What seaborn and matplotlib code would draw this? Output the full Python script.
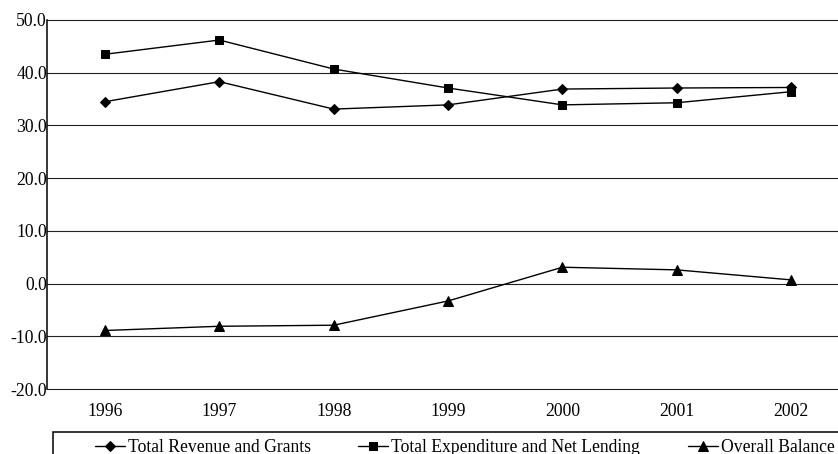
import matplotlib
matplotlib.use("Agg")
import matplotlib.pyplot as plt
import matplotlib.patches as mpatches
import seaborn as sns
import pandas as pd

years = ["1996", "1997", "1998", "1999", "2000", "2001", "2002"]
revenue = [34.5, 38.3, 33.1, 33.9, 36.9, 37.1, 37.2]
expenditure = [43.5, 46.2, 40.7, 37.1, 33.9, 34.3, 36.4]
balance = [-8.9, -8.1, -7.9, -3.3, 3.1, 2.6, 0.7]
series_names = ["Total Revenue and Grants", "Total Expenditure and Net Lending", "Overall Balance"]
y_ticks = [-20, -10, 0, 10, 20, 30, 40, 50]

sns.set_theme(style="white")
plt.rcParams['font.family'] = ['Liberation Serif', 'DejaVu Serif']

W, H = 838, 454
fig = plt.figure(figsize=(W / 100, H / 100), dpi=100)
ax = fig.add_axes([47 / W, 1 - 389 / H, 1 - 47 / W, (389 - 20) / H])

df = pd.DataFrame({"year": years * 3,
                   "value": revenue + expenditure + balance,
                   "series": [series_names[0]] * 7 + [series_names[1]] * 7 + [series_names[2]] * 7})
df["x"] = list(range(7)) * 3

markers = {series_names[0]: "D", series_names[1]: "s", series_names[2]: "^"}
msizes = {series_names[0]: 5.0, series_names[1]: 6.0, series_names[2]: 6.5}
for name in series_names:
    sub = df[df["series"] == name]
    sns.lineplot(data=sub, x="x", y="value", ax=ax, color="black", linewidth=1.0,
                 marker=markers[name], markersize=msizes[name], markeredgecolor="black",
                 markerfacecolor="black", label=name, legend=False)

ax.set_xlim(-0.507, 6.41)
ax.set_ylim(-20, 50)
ax.set_xticks(range(7))
ax.set_xticklabels(years)
ax.set_yticks(y_ticks)
ax.set_yticklabels([f"{v:.1f}" for v in y_ticks])
ax.set_xlabel("")
ax.set_ylabel("")
ax.yaxis.grid(True, color="#202020", linewidth=0.8)
ax.xaxis.grid(False)
ax.set_axisbelow(True)
for gl in ax.yaxis.get_gridlines():
    gl.set_clip_on(False)
for s in ["top", "right", "bottom"]:
    ax.spines[s].set_visible(False)
ax.spines["left"].set_color("black")
ax.spines["left"].set_linewidth(1.1)
ax.tick_params(axis="y", length=0, pad=0, labelsize=12.7, labelcolor="black")
ax.tick_params(axis="x", length=0, pad=10, labelsize=12.7, labelcolor="black")

handles = ax.get_lines()[:3]
fig.legend(handles, series_names, loc="center left", bbox_to_anchor=(86 / W, 1 - 448 / H),
           ncol=3, frameon=False, borderpad=0, fontsize=12.7, handlelength=1.7,
           handletextpad=0.17, columnspacing=2.69, labelcolor="black")

fig.patches.append(mpatches.Rectangle((53 / W, -0.1), 1.0, 0.1 + (454 - 432) / H,
                                      transform=fig.transFigure, fill=False,
                                      edgecolor="black", linewidth=1.1))

fig.savefig("out.png", dpi=100)
